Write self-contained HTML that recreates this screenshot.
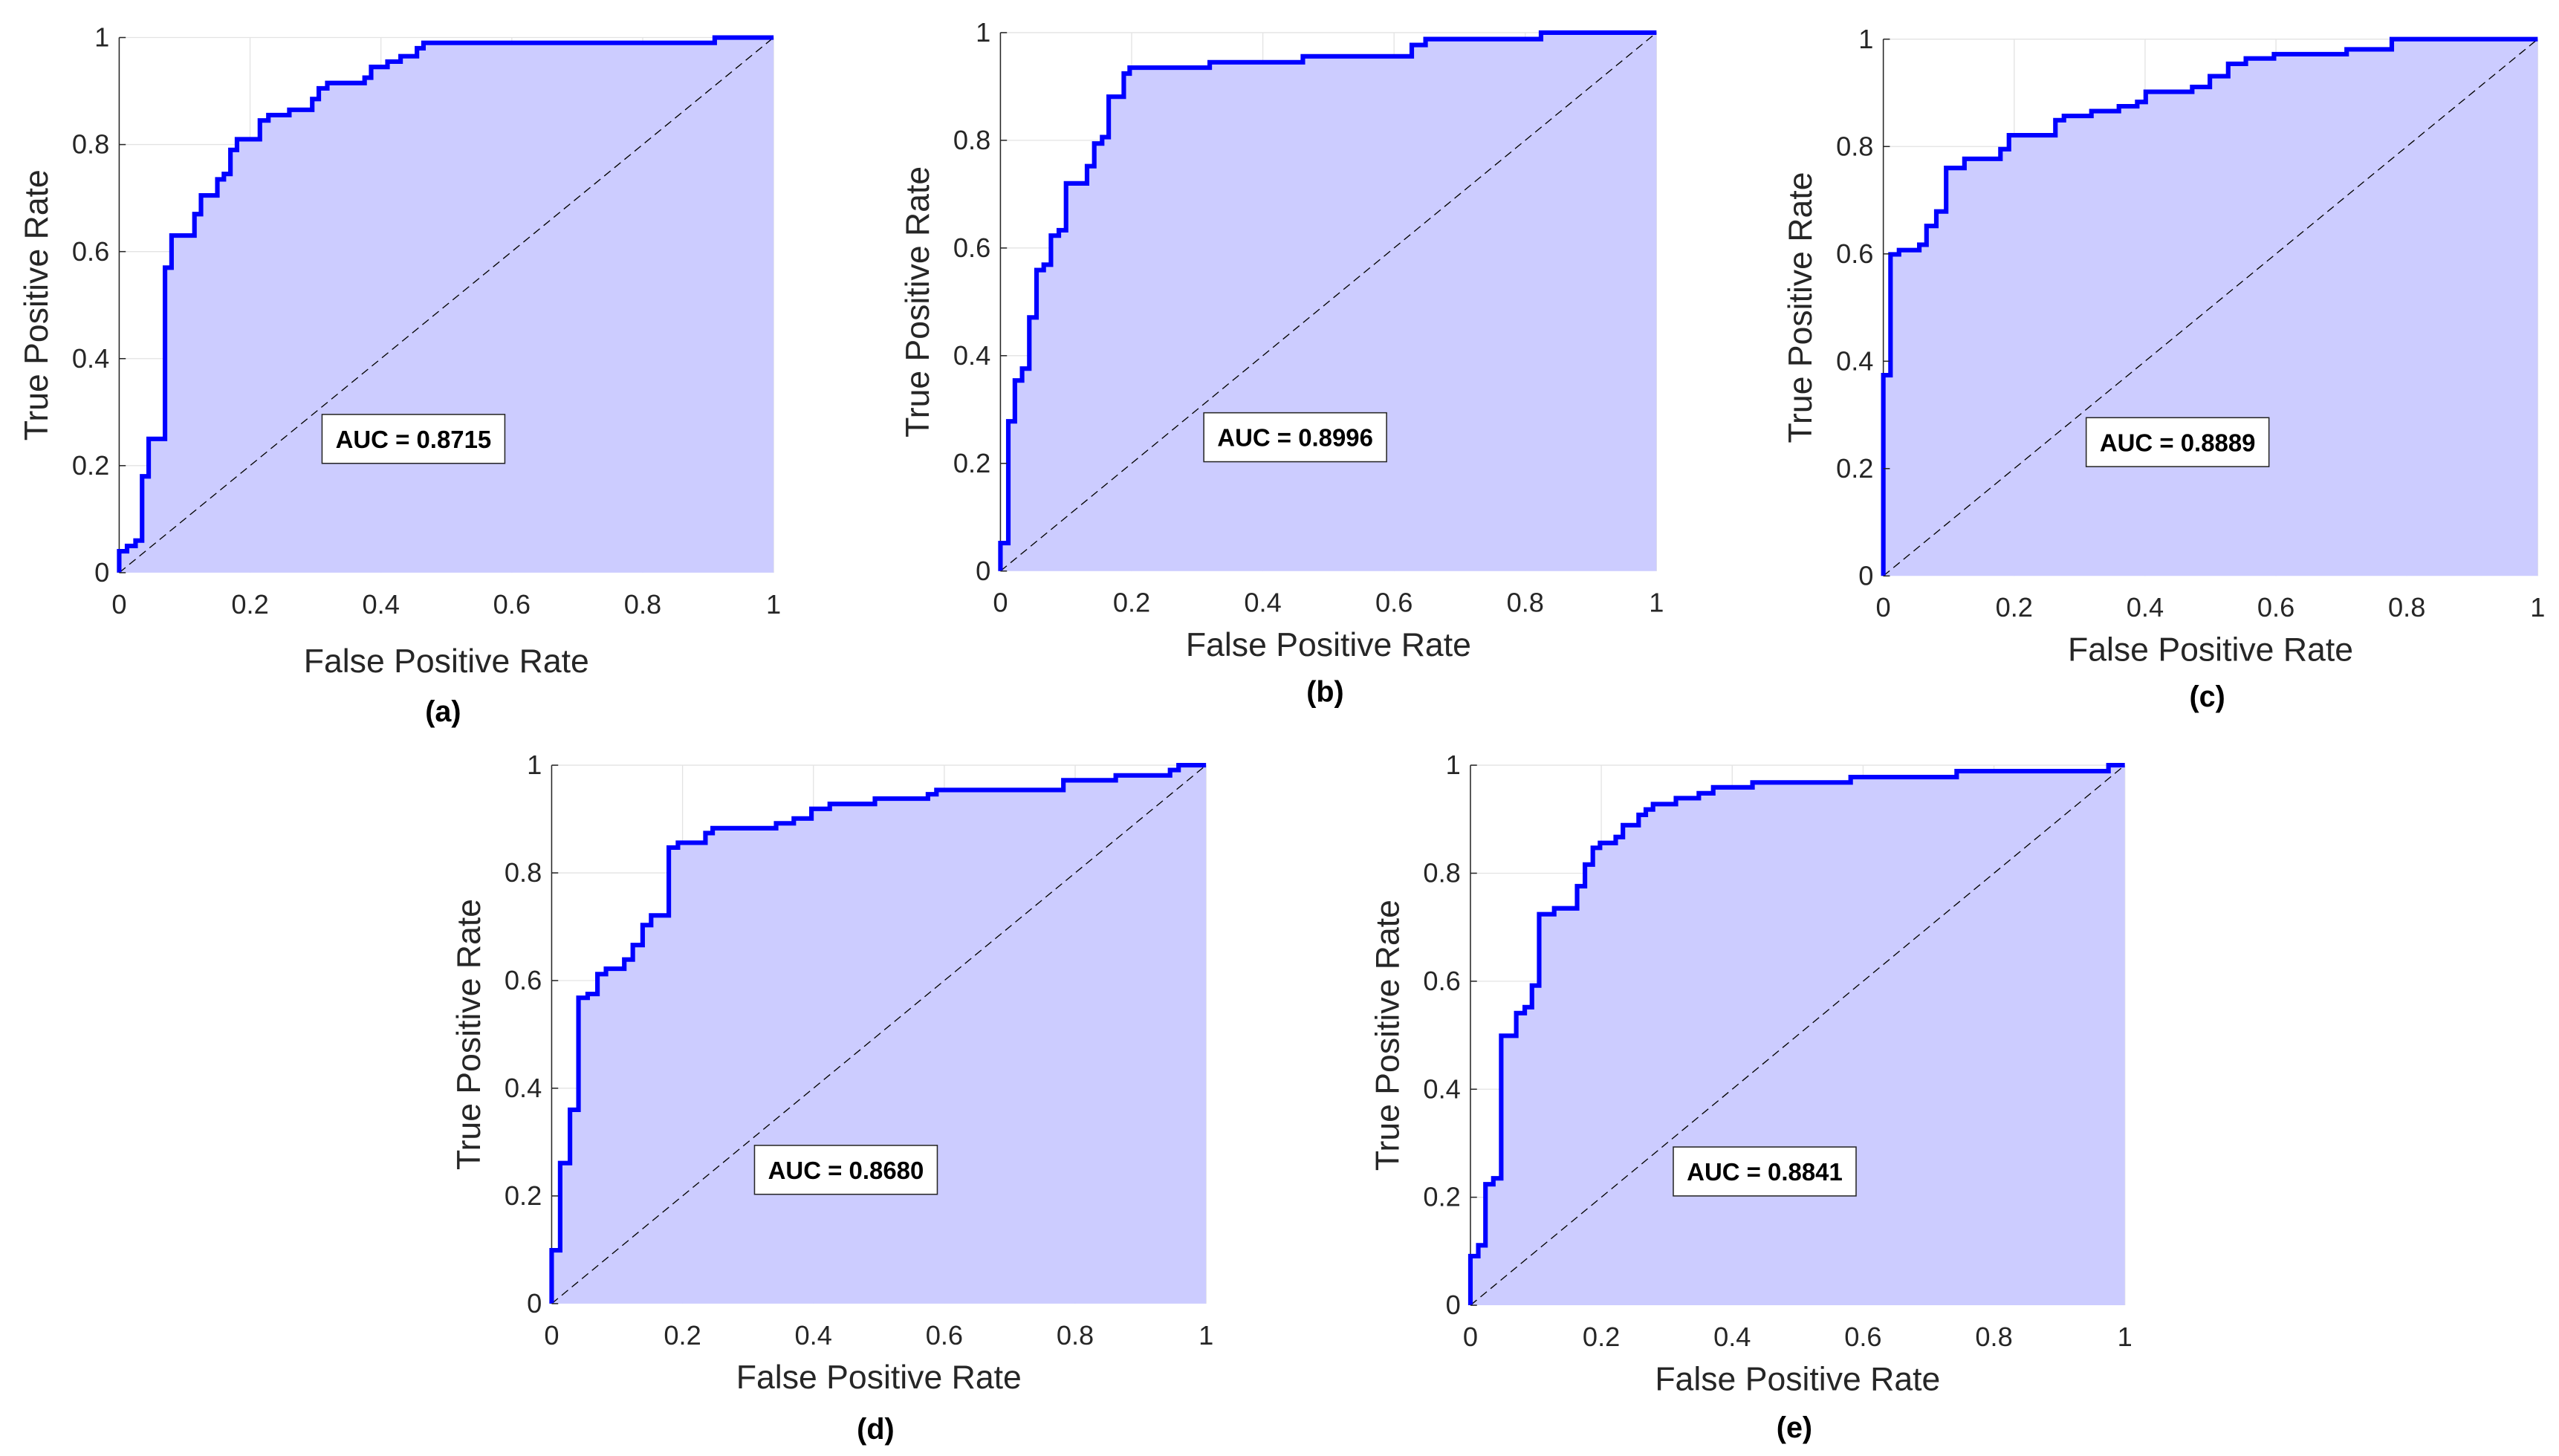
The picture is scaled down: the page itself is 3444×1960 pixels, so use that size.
<!DOCTYPE html>
<html><head><meta charset="utf-8"><style>
html,body{margin:0;padding:0;background:#fff;}
svg{display:block;font-family:"Liberation Sans",Arial,sans-serif;}
</style></head><body>
<svg id="fig" width="3444" height="1960" viewBox="0 0 1568 892.4" xmlns="http://www.w3.org/2000/svg"></svg>
<script>
const ticks = [0, 0.2, 0.4, 0.6, 0.8, 1];
const tickLabels = ["0", "0.2", "0.4", "0.6", "0.8", "1"];
const panelNames = ["a", "b", "c", "d", "e"];
const aucLabels = ["AUC = 0.8715", "AUC = 0.8996", "AUC = 0.8889", "AUC = 0.8680", "AUC = 0.8841"];
const fprA = [0,0.012,0.025,0.035,0.045,0.07,0.08,0.115,0.125,0.15,0.16,0.17,0.18,0.215,0.228,0.26,0.295,0.305,0.318,0.375,0.385,0.41,0.43,0.455,0.465,0.91];
const tprA = [0.04,0.05,0.06,0.18,0.25,0.57,0.63,0.67,0.705,0.735,0.745,0.79,0.81,0.845,0.855,0.865,0.885,0.905,0.915,0.925,0.945,0.955,0.965,0.98,0.99,1];
const fprB = [0,0.012,0.022,0.033,0.044,0.055,0.066,0.077,0.089,0.100,0.132,0.143,0.155,0.165,0.188,0.197,0.319,0.461,0.627,0.648,0.824];
const tprB = [0.052,0.278,0.354,0.376,0.471,0.559,0.569,0.623,0.633,0.72,0.752,0.794,0.806,0.881,0.924,0.935,0.945,0.956,0.977,0.988,1];
const fprC = [0,0.011,0.024,0.055,0.066,0.081,0.096,0.124,0.179,0.192,0.263,0.276,0.318,0.360,0.388,0.401,0.472,0.499,0.527,0.554,0.597,0.708,0.777];
const tprC = [0.374,0.599,0.607,0.617,0.652,0.679,0.760,0.777,0.795,0.821,0.849,0.857,0.866,0.875,0.883,0.902,0.911,0.931,0.954,0.964,0.972,0.981,1];
const fprD = [0,0.013,0.028,0.041,0.055,0.070,0.083,0.111,0.124,0.139,0.152,0.179,0.193,0.235,0.246,0.343,0.370,0.397,0.425,0.494,0.575,0.588,0.782,0.862,0.945,0.958];
const tprD = [0.099,0.261,0.360,0.568,0.575,0.612,0.622,0.639,0.666,0.703,0.721,0.847,0.856,0.874,0.883,0.892,0.901,0.919,0.928,0.938,0.946,0.954,0.972,0.981,0.991,1];
const fprE = [0,0.012,0.023,0.035,0.047,0.070,0.083,0.094,0.105,0.128,0.163,0.175,0.187,0.198,0.222,0.233,0.257,0.268,0.279,0.314,0.349,0.371,0.431,0.581,0.743,0.975];
const tprE = [0.091,0.111,0.224,0.235,0.499,0.541,0.552,0.592,0.724,0.735,0.776,0.816,0.847,0.856,0.867,0.889,0.908,0.918,0.928,0.939,0.948,0.959,0.968,0.978,0.989,1];
const fprAll = [fprA, fprB, fprC, fprD, fprE];
const tprAll = [tprA, tprB, tprC, tprD, tprE];

const layout = [
  {x0:73, x1:474, yT:23, yB:351, tOff:61, lOff:91},
  {x0:613, x1:1015, yT:20, yB:350, tOff:52, lOff:80},
  {x0:1154, x1:1555, yT:24, yB:353, tOff:52, lOff:80},
  {x0:338, x1:739, yT:469, yB:799, tOff:52, lOff:83},
  {x0:901, x1:1302, yT:469, yB:800, tOff:52, lOff:81}
];
const NS = "http://www.w3.org/2000/svg";
const svg = document.getElementById("fig");
function mk(tag, attrs, parent, text) {
  const e = document.createElementNS(NS, tag);
  for (const k in attrs) e.setAttribute(k, attrs[k]);
  if (text !== undefined) e.textContent = text;
  parent.appendChild(e);
  return e;
}
layout.forEach((L, p) => {
  const sx = v => L.x0 + v * (L.x1 - L.x0);
  const sy = v => L.yB - v * (L.yB - L.yT);
  const g = mk("g", {}, svg);
  
  
  ticks.forEach((t, i) => {
    if (i === 0) return;
    const gx = mk("line", {x1:sx(t), x2:sx(t), y1:L.yT, y2:L.yB, stroke:"#e3e3e3", "stroke-width":0.6}, g);
    
    
    const gy = mk("line", {x1:L.x0, x2:L.x1, y1:sy(t), y2:sy(t), stroke:"#e3e3e3", "stroke-width":0.6}, g);
    
    
  });
  const fpr = fprAll[p], tpr = tprAll[p];
  let pts = [[sx(0), sy(0)]];
  let prev = 0;
  for (let i = 0; i < fpr.length; i++) {
    pts.push([sx(fpr[i]), sy(prev)]);
    pts.push([sx(fpr[i]), sy(tpr[i])]);
    prev = tpr[i];
  }
  pts.push([sx(1), sy(prev)]);
  const ptsStr = pts.map(q => q[0].toFixed(2) + "," + q[1].toFixed(2)).join(" ");
  const area = mk("polygon", {points: ptsStr + " " + sx(1) + "," + sy(0), fill:"#ccccff"}, g);
  
  
  const diag = mk("line", {x1:sx(0), y1:sy(0), x2:sx(1), y2:sy(1), stroke:"#000", "stroke-width":0.6, "stroke-dasharray":"5,3"}, g);
  
  
  const ax = mk("line", {x1:L.x0, x2:L.x0, y1:L.yT, y2:L.yB, stroke:"#262626", "stroke-width":0.7}, g);
  
  
  const curve = mk("polyline", {points: ptsStr, fill:"none", stroke:"#0000ff", "stroke-width":2.8, "stroke-linejoin":"miter"}, g);
  
  
  ticks.forEach((t, i) => {
    const tl = mk("line", {x1:L.x0, x2:L.x0 + 4, y1:sy(t), y2:sy(t), stroke:"#262626", "stroke-width":0.7}, g);
    
    
    const yl = mk("text", {x:L.x0 - 6, y:sy(t) + 5.5, "text-anchor":"end", "font-size":16.5, fill:"#262626"}, g, tickLabels[i]);
    
    
    const xl = mk("text", {x:sx(t), y:L.yB + 25, "text-anchor":"middle", "font-size":16.5, fill:"#262626"}, g, tickLabels[i]);
    
    
  });
  const cx = (L.x0 + L.x1) / 2, cy = (L.yT + L.yB) / 2;
  const xt = mk("text", {x:cx, y:L.yB + L.tOff, "text-anchor":"middle", "font-size":20.3, fill:"#262626"}, g, "False Positive Rate");
  
  
  const yt = mk("text", {x:0, y:0, "text-anchor":"middle", "font-size":20.3, fill:"#262626", transform:"translate(" + (L.x0 - 44) + "," + cy + ") rotate(-90)"}, g, "True Positive Rate");
  
  
  const pl = mk("text", {x:cx - 2, y:L.yB + L.lOff, "text-anchor":"middle", "font-size":18, "font-weight":"bold", fill:"#000"}, g, "(" + panelNames[p] + ")");
  
  
  const bx = L.x0 + 0.31 * (L.x1 - L.x0), by = L.yB - 97;
  const box = mk("rect", {x:bx, y:by, width:112, height:30, fill:"#fff", stroke:"#262626", "stroke-width":0.7}, g);
  
  
  const at = mk("text", {x:bx + 56, y:by + 20.5, "text-anchor":"middle", "font-size":15, "font-weight":"bold", fill:"#000"}, g, aucLabels[p]);
  
  
});
</script>
</body></html>
